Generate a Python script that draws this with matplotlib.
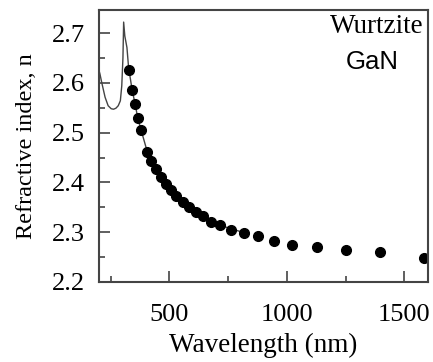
import numpy as np
import matplotlib.pyplot as plt
from matplotlib.ticker import MultipleLocator

# measured refractive index of wurtzite GaN (dots)
wavelength = [326, 341, 355, 365, 380, 406, 423, 441, 463, 484, 506, 528, 556,
              584, 614, 643, 675, 714, 762, 818, 879, 944, 1023, 1127, 1250,
              1397, 1583]
n_index = [2.625, 2.586, 2.557, 2.529, 2.506, 2.461, 2.443, 2.427, 2.411,
           2.397, 2.384, 2.372, 2.361, 2.350, 2.341, 2.332, 2.321, 2.314,
           2.305, 2.299, 2.292, 2.283, 2.275, 2.271, 2.265, 2.261, 2.249]

# calculated curve (thin line)
curve_wl = [200, 204, 212, 226, 239, 252, 262, 272, 282, 291, 297, 302, 305,
            310, 319, 326, 341, 355, 365, 380, 406, 441, 484, 528, 584, 643,
            714, 818]
curve_n = [2.625, 2.618, 2.600, 2.571, 2.554, 2.548, 2.547, 2.549, 2.554,
           2.564, 2.594, 2.650, 2.722, 2.694, 2.671, 2.631, 2.586, 2.555,
           2.529, 2.504, 2.461, 2.427, 2.397, 2.372, 2.350, 2.332, 2.314,
           2.299]

plt.rcParams['font.family'] = 'Liberation Serif'

fig = plt.figure(figsize=(4.33, 3.62), dpi=100)
ax = fig.add_axes([0.2286, 0.221, 0.7594, 0.751])

ax.plot(curve_wl, curve_n, color='#444444', linewidth=1.0)
ax.plot(wavelength, n_index, 'o', color='black', markersize=7)

ax.set_xlim(200, 1600)
ax.set_ylim(2.2, 2.746)
ax.xaxis.set_major_locator(MultipleLocator(500))
ax.xaxis.set_minor_locator(MultipleLocator(250))
ax.yaxis.set_major_locator(MultipleLocator(0.1))
ax.yaxis.set_minor_locator(MultipleLocator(0.05))
ax.set_yticks([2.2, 2.3, 2.4, 2.5, 2.6, 2.7])
ax.set_yticklabels(['2.2', '2.3', '2.4', '2.5', '2.6', '2.7'])

ax.tick_params(which='both', direction='in', top=False, right=False,
               color='#444444', width=1.2)
ax.tick_params(which='major', length=8, labelsize=19, pad=10)
ax.tick_params(axis='x', which='major', pad=16)
ax.tick_params(which='minor', length=4)
for sp in ax.spines.values():
    sp.set_color('#444444')
    sp.set_linewidth(1.5)

ax.set_xlabel('Wavelength (nm)', fontsize=19.5, labelpad=5)
ax.set_ylabel('Refractive index, n', fontsize=17.5, labelpad=11)

ax.text(0.988, 0.94, 'Wurtzite', transform=ax.transAxes, ha='right',
        va='center', fontsize=19.5)
ax.text(0.83, 0.81, 'GaN', transform=ax.transAxes, ha='center',
        va='center', fontsize=18.5, family='Liberation Sans')

fig.savefig('out.png', dpi=100)
